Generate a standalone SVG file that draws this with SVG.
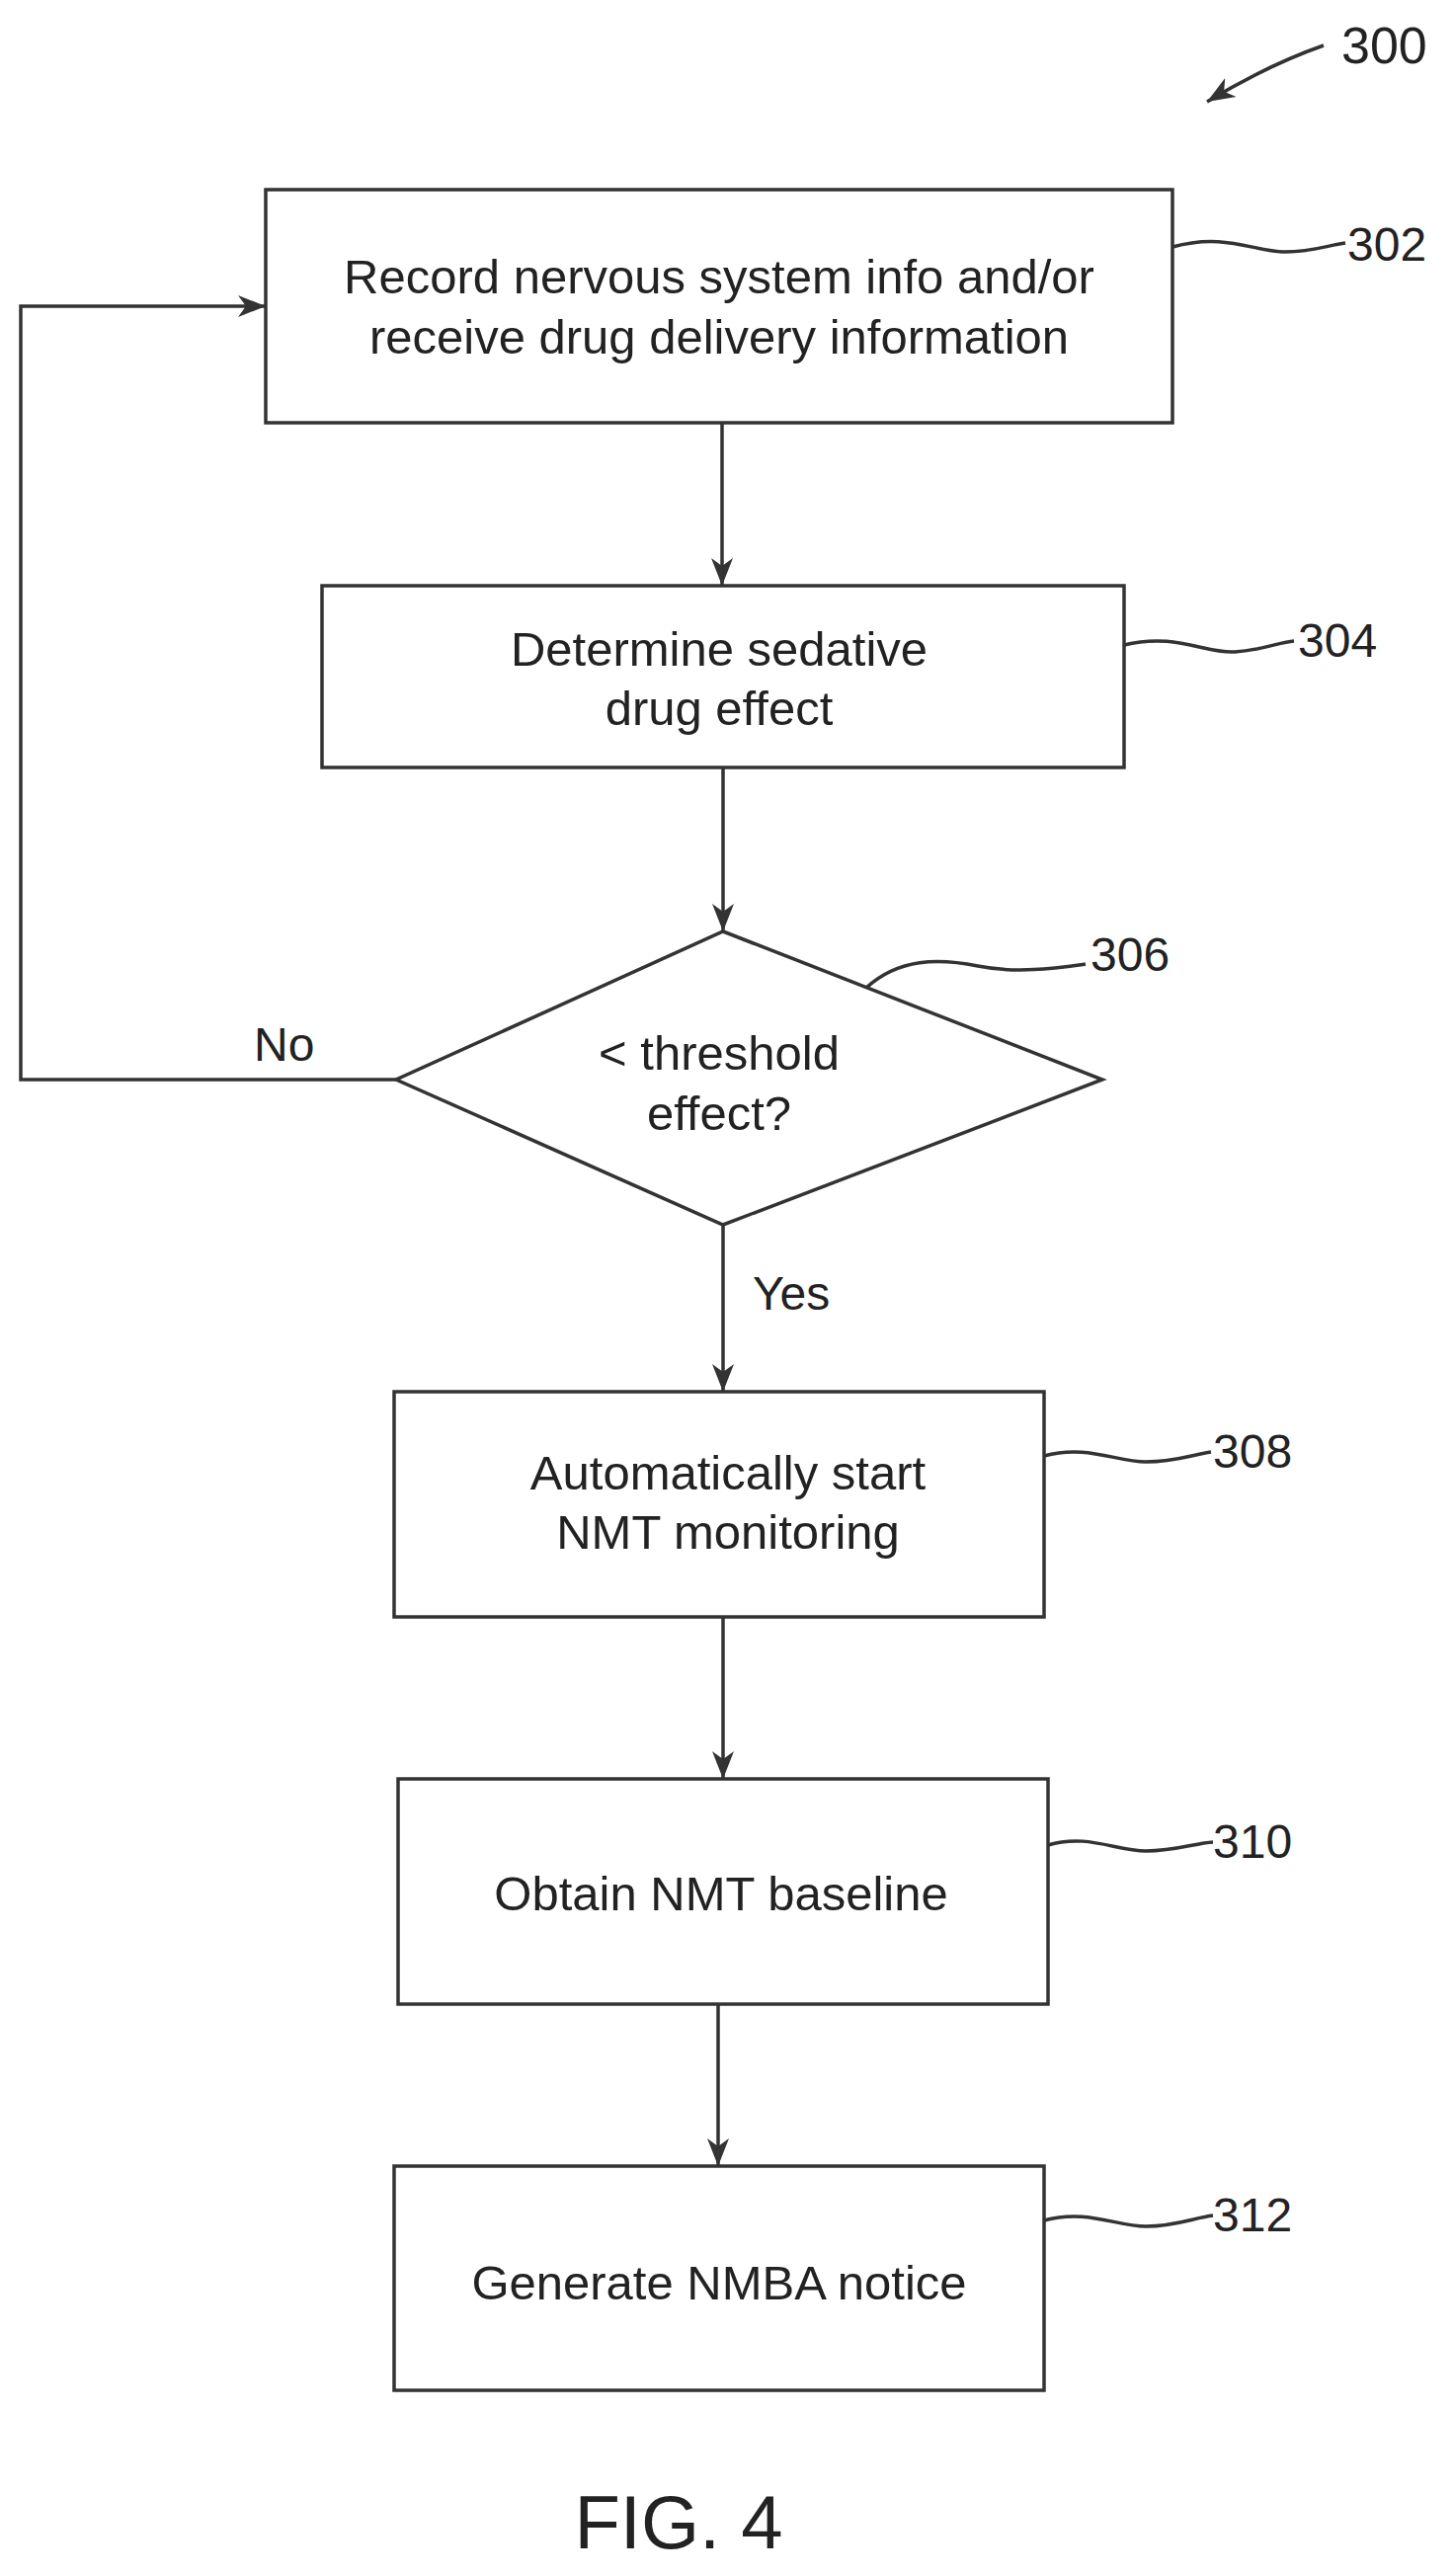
<svg xmlns="http://www.w3.org/2000/svg" width="1472" height="2608" viewBox="0 0 1472 2608">
<style>
.b{fill:#fff;stroke:#333;stroke-width:3.5}
.l{fill:none;stroke:#333;stroke-width:3.5}
.t{font-family:"Liberation Sans",Arial,sans-serif;font-size:49px;fill:#222;text-anchor:middle}
.n{font-family:"Liberation Sans",Arial,sans-serif;font-size:48px;fill:#222}
</style>
<defs>
<marker id="a" viewBox="0 0 28 24" refX="28" refY="12" markerWidth="28" markerHeight="24" markerUnits="userSpaceOnUse" orient="auto"><path d="M0,1 L28,12 L0,23 L8,12 Z" fill="#333"/></marker>
</defs>
<rect width="1472" height="2608" fill="#fff"/>
<g id="connectors">
<path class="l" d="M731,428 V593" marker-end="url(#a)"/>
<path class="l" d="M732,777 V943" marker-end="url(#a)"/>
<path class="l" d="M732,1240 V1409" marker-end="url(#a)"/>
<path class="l" d="M732,1637 V1801" marker-end="url(#a)"/>
<path class="l" d="M727,2029 V2193" marker-end="url(#a)"/>
<path class="l" d="M401,1093 H21 V310 H269" marker-end="url(#a)"/>
<text class="n" x="257" y="1074">No</text>
<text class="n" x="762" y="1326">Yes</text>
</g>
<g id="n302">
<rect class="b" x="269" y="192" width="918" height="236"/>
<text class="t" x="728" y="297">Record nervous system info and/or</text>
<text class="t" x="728" y="358">receive drug delivery information</text>
<path class="l" d="M1187,250 C1240,235 1270,255 1300,255 C1330,255 1345,248 1362,246"/>
<text class="n" x="1364" y="264">302</text>
</g>
<g id="n304">
<rect class="b" x="326" y="593" width="812" height="184"/>
<text class="t" x="728" y="674">Determine sedative</text>
<text class="t" x="728" y="734">drug effect</text>
<path class="l" d="M1138,653 C1190,640 1220,662 1250,660 C1280,658 1295,650 1310,649"/>
<text class="n" x="1314" y="665">304</text>
</g>
<g id="n306">
<polygon class="b" points="732,943 1116,1093 732,1240 401,1093"/>
<text class="t" x="728" y="1083">&lt; threshold</text>
<text class="t" x="728" y="1144">effect?</text>
<path class="l" d="M877,1000 C910,970 950,970 990,978 C1030,986 1070,980 1099,976"/>
<text class="n" x="1104" y="983">306</text>
</g>
<g id="n308">
<rect class="b" x="399" y="1409" width="658" height="228"/>
<text class="t" x="737" y="1508">Automatically start</text>
<text class="t" x="737" y="1568">NMT monitoring</text>
<path class="l" d="M1057,1474 C1100,1462 1130,1480 1160,1480 C1190,1480 1210,1472 1226,1470"/>
<text class="n" x="1228" y="1486">308</text>
</g>
<g id="n310">
<rect class="b" x="403" y="1801" width="658" height="228"/>
<text class="t" x="730" y="1934">Obtain NMT baseline</text>
<path class="l" d="M1061,1868 C1100,1856 1130,1874 1160,1874 C1190,1874 1210,1866 1228,1865"/>
<text class="n" x="1228" y="1881">310</text>
</g>
<g id="n312">
<rect class="b" x="399" y="2193" width="658" height="227"/>
<text class="t" x="728" y="2328">Generate NMBA notice</text>
<path class="l" d="M1057,2248 C1100,2236 1130,2254 1160,2254 C1190,2254 1210,2245 1228,2243"/>
<text class="n" x="1228" y="2259">312</text>
</g>
<g id="ref300">
<path class="l" d="M1340,46 C1300,60 1260,80 1222,103" marker-end="url(#a)"/>
<text class="n" x="1358" y="64" style="font-size:52px">300</text>
</g>
<text class="t" x="687" y="2580" style="font-size:76px">FIG. 4</text>
</svg>
